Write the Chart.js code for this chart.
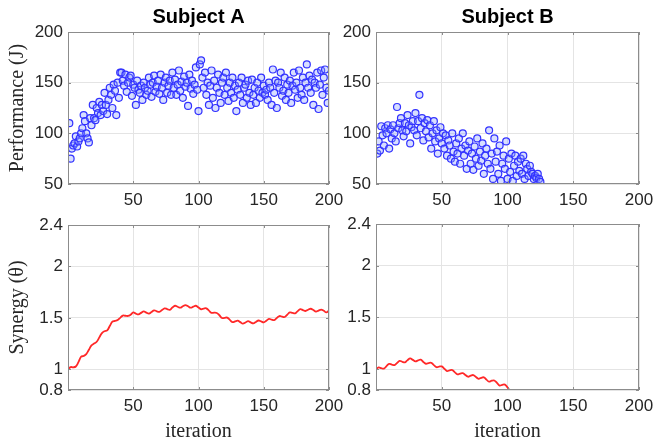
<!DOCTYPE html>
<html>
<head>
<meta charset="utf-8">
<title>Performance and synergy per subject</title>
<script src="https://cdn.jsdelivr.net/npm/chart.js@4.4.0/dist/chart.umd.min.js"></script>
<style>
  html, body { margin: 0; padding: 0; background: #fff; overflow: hidden; }
  #wrap { position: relative; width: 654px; height: 444px; overflow: hidden; }
  #wrap canvas { position: absolute; }
</style>
</head>
<body>
<div id="wrap">
  <canvas id="perfA" width="360" height="216" style="left:0;top:0"></canvas>
  <canvas id="perfB" width="360" height="216" style="left:308px;top:0"></canvas>
  <canvas id="synA" width="360" height="239" style="left:0;top:205px"></canvas>
  <canvas id="synB" width="360" height="240" style="left:308px;top:204px"></canvas>
</div>
<script>
/* Performance (J) per iteration */
var performanceA = [
  110, 75, 85, 88, 90, 97, 87, 92, 95, 100,
  105, 118, 112, 100, 95, 91, 115, 108, 128, 115,
  113, 125, 120, 131, 118, 128, 122, 140, 128, 119,
  133, 145, 138, 125, 148, 142, 118, 150, 135, 160,
  160, 152, 147, 158, 141, 150, 155, 157, 137, 148,
  145, 128, 152, 143, 140, 147, 133, 150, 145, 138,
  142, 155, 148, 136, 150, 157, 141, 146, 152, 139,
  158, 145, 133, 150, 155, 140, 147, 152, 138, 160,
  145, 153, 138, 148, 162, 142, 151, 135, 156, 146,
  150, 127, 158, 144, 152, 139, 148, 165, 143, 122,
  168, 172, 155, 145, 160, 138, 150, 128, 147, 162,
  135, 152, 125, 145, 158, 140, 130, 150, 155, 138,
  160, 145, 132, 150, 140, 155, 135, 147, 122, 143,
  150, 138, 155, 130, 145, 148, 135, 152, 140, 128,
  153, 138, 145, 130, 150, 142, 135, 155, 140, 147,
  138, 143, 133, 150, 145, 128, 163, 140, 152, 125,
  150, 145, 160, 137, 142, 155, 133, 148, 140, 152,
  130, 147, 160, 143, 150, 135, 162, 145, 138, 155,
  133, 150, 168, 145, 157, 140, 153, 128, 150, 145,
  160, 124, 148, 162, 138, 155, 163, 145, 130, 142
];
var performanceB = [
  80, 92, 83, 107, 98, 88, 105, 100, 108, 85,
  104, 95, 108, 100, 92, 126, 105, 110, 115, 103,
  97, 110, 102, 118, 108, 90, 106, 112, 103, 120,
  98, 112, 138, 105, 115, 93, 110, 102, 113, 96,
  108, 85, 100, 112, 92, 103, 80, 95, 106, 90,
  100, 85, 98, 78, 93, 88, 75, 100, 82, 72,
  90, 80, 95, 70, 85, 100, 78, 88, 65, 83,
  92, 70, 80, 64, 87, 75, 95, 68, 82, 73,
  90, 60, 78, 85, 70, 103, 65, 80, 55, 95,
  72, 82, 60, 88, 53, 70, 78, 65, 92, 55,
  75, 62, 80, 53, 68, 78, 58, 72, 63, 75,
  60, 78, 55, 70, 65, 58, 68, 62, 60, 55,
  58, 56, 60, 55, 52
];

/* Synergy (theta), sampled every 2 iterations */
var synergyA = [
  1.000, 1.022, 1.020, 1.028, 1.070, 1.122, 1.130, 1.148, 1.190, 1.232,
  1.250, 1.268, 1.310, 1.352, 1.370, 1.378, 1.420, 1.462, 1.470, 1.478,
  1.500, 1.522, 1.520, 1.518, 1.530, 1.552, 1.540, 1.533, 1.548, 1.562,
  1.550, 1.541, 1.556, 1.572, 1.563, 1.558, 1.575, 1.592, 1.585, 1.578,
  1.600, 1.617, 1.607, 1.598, 1.612, 1.624, 1.612, 1.598, 1.608, 1.617,
  1.600, 1.583, 1.590, 1.592, 1.570, 1.548, 1.550, 1.547, 1.525, 1.498,
  1.500, 1.502, 1.480, 1.458, 1.465, 1.472, 1.458, 1.443, 1.455, 1.467,
  1.455, 1.446, 1.460, 1.474, 1.465, 1.456, 1.472, 1.490, 1.482, 1.478,
  1.498, 1.517, 1.512, 1.508, 1.530, 1.552, 1.548, 1.543, 1.565, 1.584,
  1.575, 1.566, 1.578, 1.588, 1.575, 1.560, 1.570, 1.580, 1.568, 1.553,
  1.570
];
var synergyB = [
  1.000, 1.017, 1.010, 1.006, 1.030, 1.052, 1.045, 1.040, 1.060, 1.080,
  1.072, 1.066, 1.088, 1.104, 1.090, 1.076, 1.085, 1.092, 1.070, 1.053,
  1.060, 1.062, 1.040, 1.020, 1.025, 1.027, 1.005, 0.983, 0.990, 0.992,
  0.970, 0.950, 0.958, 0.962, 0.945, 0.928, 0.938, 0.944, 0.925, 0.908,
  0.918, 0.922, 0.900, 0.880, 0.890, 0.892, 0.868, 0.843, 0.850, 0.852,
  0.825, 0.795, 0.792, 0.801, 0.772, 0.750
];
var synergyStep = 2;

var xTicks = [0, 50, 100, 150, 200];
var perfTicks = [50, 100, 150, 200];
var synergyTicks = [0.8, 1, 1.5, 2, 2.4];

Chart.defaults.font.family = '"Liberation Sans", Arial, sans-serif';
Chart.defaults.font.size = 17;
Chart.defaults.color = '#262626';
Chart.defaults.animation = false;

var serif = { family: '"Liberation Serif", "Times New Roman", serif', size: 20 };

// matlab style box with inward ticks
var boxPlugin = {
  id: 'box',
  afterDraw: function(chart) {
    var a = chart.chartArea, ctx = chart.ctx;
    var xs = chart.scales.x, ys = chart.scales.y;
    ctx.save();
    ctx.strokeStyle = '#8c8c8c';
    ctx.lineWidth = 1;
    ctx.strokeRect(a.left + 0.5, a.top + 0.5, a.right - a.left - 1, a.bottom - a.top - 1);
    ctx.beginPath();
    xs.ticks.forEach(function(t) {
      var px = Math.round(xs.getPixelForValue(t.value)) + 0.5;
      ctx.moveTo(px, a.top); ctx.lineTo(px, a.top + 3);
      ctx.moveTo(px, a.bottom); ctx.lineTo(px, a.bottom - 3);
    });
    ys.ticks.forEach(function(t) {
      var py = Math.round(ys.getPixelForValue(t.value)) + 0.5;
      ctx.moveTo(a.left, py); ctx.lineTo(a.left + 3, py);
      ctx.moveTo(a.right, py); ctx.lineTo(a.right - 3, py);
    });
    ctx.stroke();
    ctx.restore();
  }
};

function toPoints(values, step, start) {
  return values.map(function(v, i) { return { x: start + i * step, y: v }; });
}

function xScale(showTitle) {
  return {
    type: 'linear', min: 0, max: 200,
    afterBuildTicks: function(s) { s.ticks = xTicks.map(function(v) { return { value: v }; }); },
    grid: { color: '#e4e4e4', drawTicks: false },
    border: { display: false },
    ticks: {
      padding: 6,
      maxRotation: 0,
      callback: function(v) { return v === 0 ? '' : String(v); }
    },
    title: { display: showTitle, text: 'iteration', font: serif, color: '#262626', padding: { top: 2, bottom: 0 } },
    afterFit: function(s) { s.height = showTitle ? 54 : 32; }
  };
}

function yScale(min, max, ticks, label) {
  return {
    min: min, max: max,
    afterBuildTicks: function(s) { s.ticks = ticks.map(function(v) { return { value: v }; }); },
    grid: { color: '#e4e4e4', drawTicks: false },
    border: { display: false },
    ticks: { padding: 5, callback: function(v) { return String(v); } },
    title: { display: !!label, text: label || '', font: serif, color: '#262626', padding: { top: 6, bottom: 0 } },
    afterFit: function(s) { s.width = 68; }
  };
}

function drawPerformance(id, title, values, rightPad) {
  var ctx = document.getElementById(id).getContext('2d');
  return new Chart(ctx, {
    type: 'scatter',
    data: {
      datasets: [{
        data: toPoints(values, 1, 1),
        pointStyle: 'circle',
        pointRadius: 3.5,
        borderWidth: 1.2,
        borderColor: 'rgb(50, 50, 255)',
        backgroundColor: 'rgba(140, 160, 255, 0.35)'
      }]
    },
    options: {
      responsive: false,
      layout: { padding: { left: 0, right: rightPad, top: 0, bottom: 0 } },
      plugins: {
        legend: { display: false },
        tooltip: { enabled: false },
        title: {
          display: true, text: title, color: '#000',
          fullSize: false,
          font: { size: 20, weight: 'bold' },
          padding: { top: 5, bottom: 3 }
        }
      },
      scales: {
        x: xScale(false),
        y: yScale(50, 200, perfTicks, id === 'perfA' ? 'Performance (J)' : null)
      }
    },
    plugins: [boxPlugin]
  });
}

function drawSynergy(id, values, rightPad) {
  var ctx = document.getElementById(id).getContext('2d');
  return new Chart(ctx, {
    type: 'line',
    data: {
      datasets: [{
        data: toPoints(values, synergyStep, 0),
        borderColor: 'rgb(255, 40, 40)',
        borderWidth: 1.8,
        pointRadius: 0,
        tension: 0.4,
        fill: false
      }]
    },
    options: {
      responsive: false,
      layout: { padding: { left: 0, right: rightPad, top: 20, bottom: 0 } },
      plugins: { legend: { display: false }, tooltip: { enabled: false } },
      scales: {
        x: xScale(true),
        y: yScale(0.8, 2.4, synergyTicks, id === 'synA' ? 'Synergy (\u03b8)' : null)
      }
    },
    plugins: [boxPlugin]
  });
}

drawPerformance('perfA', 'Subject A', performanceA, 31);
drawPerformance('perfB', 'Subject B', performanceB, 29);
drawSynergy('synA', synergyA, 31);
drawSynergy('synB', synergyB, 29);
</script>
</body>
</html>
